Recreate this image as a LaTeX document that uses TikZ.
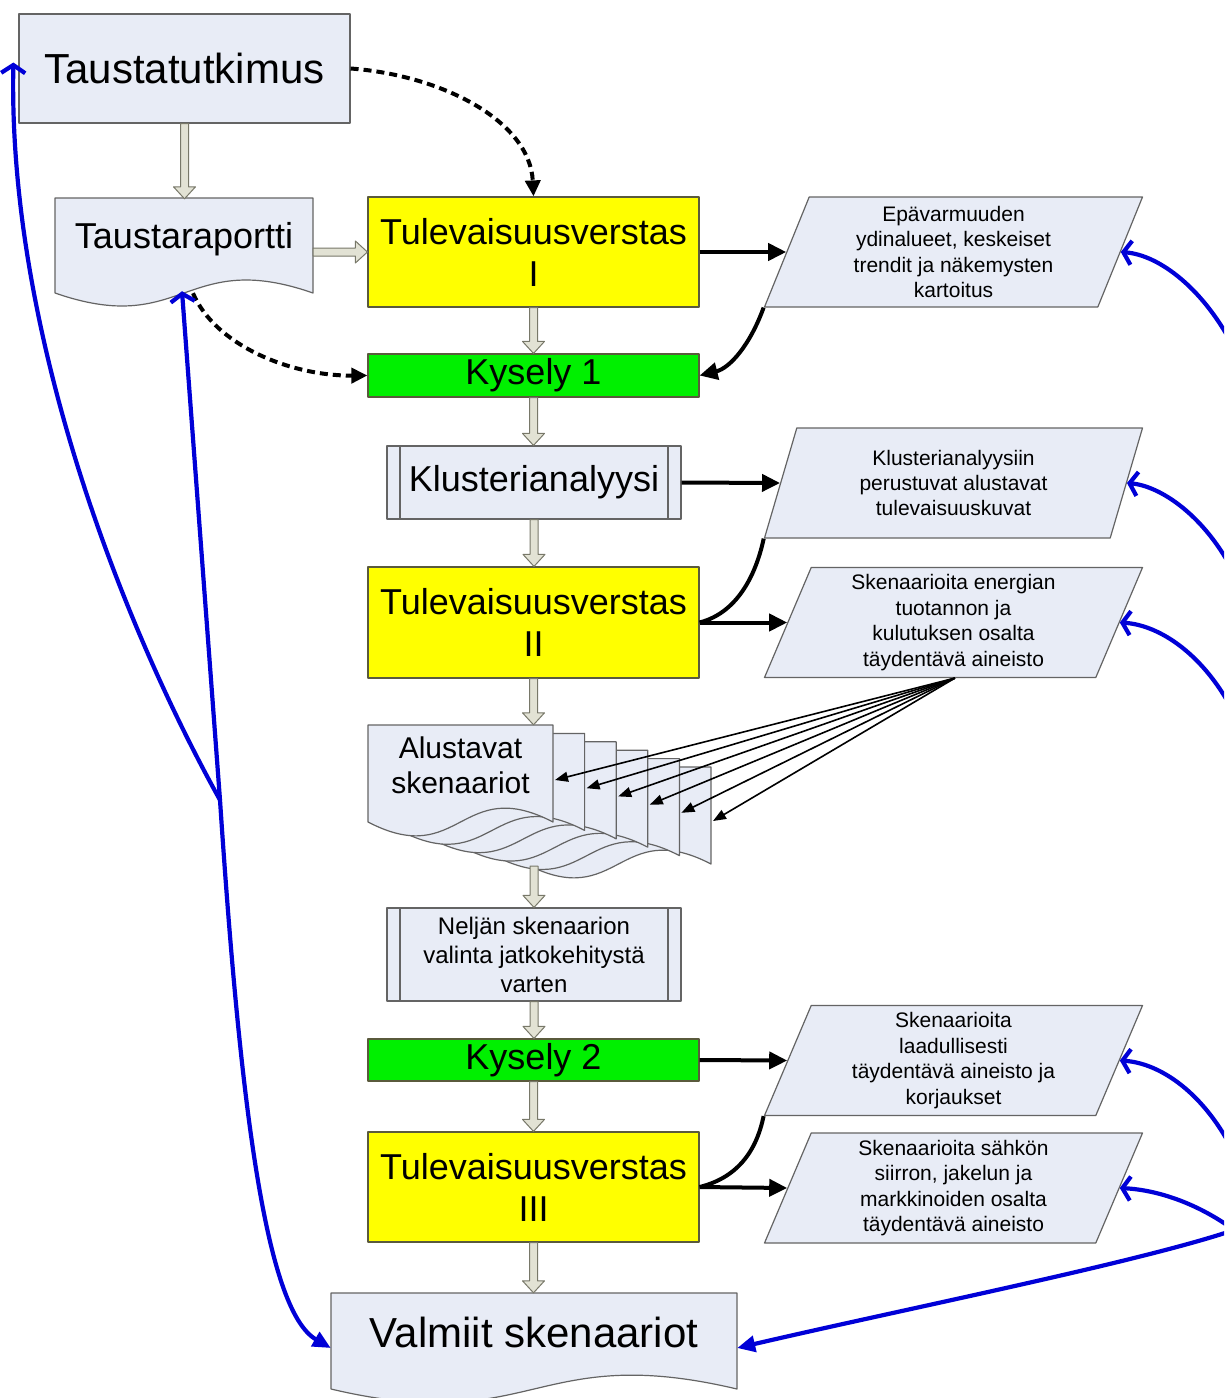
\documentclass[tikz,border=0pt]{standalone}
\usepackage{fontspec}
\setmainfont{Liberation Sans}
\usetikzlibrary{arrows.meta,shapes.geometric,calc}

\definecolor{boxfill}{RGB}{232,236,246}
\definecolor{boxdraw}{RGB}{100,100,100}
\definecolor{ylw}{RGB}{255,255,0}
\definecolor{grn}{RGB}{0,240,0}
\definecolor{barrfill}{RGB}{226,226,212}
\definecolor{barrdraw}{RGB}{120,120,105}
\definecolor{bluel}{RGB}{0,0,215}
\definecolor{boxdark}{RGB}{90,90,60}

\newcommand{\fbig}{\fontsize{42}{50}\selectfont}
\newcommand{\fmid}{\fontsize{36}{42}\selectfont}
\newcommand{\falu}{\fontsize{30}{35}\selectfont}
\newcommand{\fnel}{\fontsize{24}{29}\selectfont}
\newcommand{\ptext}{\fontsize{21}{25.4}\selectfont}

\newcommand{\vbarrow}[2]{\draw[blockarr] let \p1=#1, \p2=#2 in (\x1-4pt,\y1) -- (\x1-4pt,\y2+12pt) -- (\x1-11pt,\y2+12pt) -- (\x1,\y2) -- (\x1+11pt,\y2+12pt) -- (\x1+4pt,\y2+12pt) -- (\x1+4pt,\y1) -- cycle;}
\newcommand{\hbarrow}[2]{\draw[blockarr] let \p1=#1, \p2=#2 in (\x1,\y2-4pt) -- (\x2-12pt,\y2-4pt) -- (\x2-12pt,\y2-11pt) -- (\x2,\y2) -- (\x2-12pt,\y2+11pt) -- (\x2-12pt,\y2+4pt) -- (\x1,\y2+4pt) -- cycle;}
\newcommand{\mydocpage}[5]{\draw[docsty] (#1,#2) -- ({#1+#3},#2) -- ({#1+#3},{#2+#4}) .. controls ({#1+#3/2},{#2+#4-#5}) and ({#1+#3/2},{#2+#4+#5}) .. (#1,{#2+#4}) -- cycle;}

\tikzset{
  mbox/.style={draw=boxdraw, line width=1.2pt, fill=boxfill, inner sep=0pt, align=center, minimum width=331pt},
  ybox/.style={mbox, fill=ylw, draw=boxdark},
  gbox/.style={mbox, fill=grn, draw=boxdark},
  procbox/.style={mbox, minimum width=294pt, path picture={
     \draw[boxdraw, line width=1.2pt] ([xshift=13pt]path picture bounding box.north west) -- ([xshift=13pt]path picture bounding box.south west);
     \draw[boxdraw, line width=1.2pt] ([xshift=-13pt]path picture bounding box.north east) -- ([xshift=-13pt]path picture bounding box.south east);}},
  parash/.style={trapezium, trapezium left angle=64, trapezium right angle=116, trapezium stretches body, minimum width=378pt, minimum height=110pt, draw=boxdraw, line width=1.2pt, fill=boxfill, inner sep=0pt, align=center, font=\ptext},
  doclabel/.style={inner sep=0pt, align=center},
  docsty/.style={draw=boxdraw, line width=1.2pt, fill=boxfill},
  blockarr/.style={draw=barrdraw, fill=barrfill, line width=1pt},
  blk/.style={black, line width=4pt},
  blkarr/.style={blk, arrows={-Triangle[length=18pt,width=17pt]}},
  thinblk/.style={black, line width=1.6pt, arrows={-Triangle[length=13pt,width=10pt]}},
  dsh/.style={black, line width=4pt, dash pattern=on 8pt off 5pt, arrows={-Triangle[length=16pt,width=15pt]}},
  blu/.style={bluel, line width=4.2pt},
  obarb/.style={arrows={Straight Barb[length=8pt,width=24pt]-}},
  obarbfill/.style={arrows={Straight Barb[length=8pt,width=24pt]-Triangle[length=18pt,width=16pt]}},
  fillend/.style={arrows={-Triangle[length=18pt,width=16pt]}}
}

\begin{document}
\begin{tikzpicture}[x=1pt, y=-1pt, line join=round]
\useasboundingbox (0,0) rectangle (1224,1398);
\clip (0,0) rectangle (1224,1398);
\fill[white] (0,0) rectangle (1224,1398);

% document shapes
\mydocpage{55}{198}{258}{95}{45}
\foreach \k in {5,4,3,2,1,0}{
  \pgfmathsetmacro{\xo}{368+31.6*\k}
  \pgfmathsetmacro{\yo}{725+8.4*\k}
  \mydocpage{\xo}{\yo}{185}{97}{48}
}
\mydocpage{331}{1293}{406}{96}{48}

% nodes
\node[mbox, minimum height=109pt, font=\fbig] (tt) at (184.5,68.5) {Taustatutkimus};
\node[doclabel, minimum width=258pt, minimum height=80pt, font=\fmid] (trap) at (184,239) {Taustaraportti};
\node[ybox, minimum height=110pt, font=\fmid] (T1) at (533.5,252) {Tulevaisuusverstas\\I};
\node[gbox, minimum height=43pt, font=\fmid] (K1) at (533.5,375.5) {Kysely 1};
\node[procbox, minimum height=73pt, font=\fmid] (klu) at (534,482.5) {Klusterianalyysi};
\node[ybox, minimum height=111pt, font=\fmid] (T2) at (533.5,622.5) {Tulevaisuusverstas\\II};
\node[doclabel, minimum width=185pt, minimum height=80pt, font=\falu] (alu) at (460.5,765) {Alustavat\\skenaariot};
\node[procbox, minimum height=93pt, font=\fnel] (nel) at (534,954.5) {Neljän skenaarion\\valinta jatkokehitystä\\varten};
\node[gbox, minimum height=42pt, font=\fmid] (K2) at (533.5,1060) {Kysely 2};
\node[ybox, minimum height=110pt, font=\fmid] (T3) at (533.5,1187) {Tulevaisuusverstas\\III};
\node[doclabel, minimum width=406pt, minimum height=78pt, font=\fbig] (val) at (534,1332) {Valmiit skenaariot};

\node[parash] (p1) at (953.5,252) {Epävarmuuden\\ydinalueet, keskeiset\\trendit ja näkemysten\\kartoitus};
\node[parash] (p2) at (953.5,483) {Klusterianalyysiin\\perustuvat alustavat\\tulevaisuuskuvat};
\node[parash] (p3) at (953.5,622.5) {Skenaarioita energian\\tuotannon ja\\kulutuksen osalta\\täydentävä aineisto};
\node[parash] (p4) at (953.5,1060.5) {Skenaarioita\\laadullisesti\\täydentävä aineisto ja\\korjaukset};
\node[parash] (p5) at (953.5,1188) {Skenaarioita sähkön\\siirron, jakelun ja\\markkinoiden osalta\\täydentävä aineisto};

% block arrows
\vbarrow{(tt.south)}{(trap.north)}
\hbarrow{(trap.east)}{(T1.west)}
\vbarrow{(T1.south)}{(K1.north)}
\vbarrow{(K1.south)}{(klu.north)}
\vbarrow{(klu.south)}{(T2.north)}
\vbarrow{(T2.south)}{(alu.north -| T2.south)}
\coordinate (alubot) at (534,866);
\vbarrow{(alubot)}{(nel.north)}
\vbarrow{(nel.south)}{(K2.north)}
\vbarrow{(K2.south)}{(T3.north)}
\vbarrow{(T3.south)}{(val.north)}

% black connectors
\draw[blkarr] (T1.east) -- (p1.left side);
\draw[blkarr] (klu.east) -- (p2.left side);
\draw[blkarr] (T2.east) -- (p3.left side);
\draw[blkarr] (K2.east) -- (p4.left side);
\draw[blkarr] (T3.east) -- (p5.left side);
\draw[blkarr] (p1.bottom left corner) .. controls (750,345) and (730,368) .. (K1.east);
\draw[blk] (T2.east) .. controls (740,612) and (757,570) .. (p2.bottom left corner);
\draw[blk] (T3.east) .. controls (740,1177) and (757,1148) .. (p4.bottom left corner);

% thin arrows to pages
\coordinate (p3b) at ($(p3.bottom side)+(25,0)$);
\foreach \k in {0,...,5}{\coordinate (pg\k) at ({555+31.6*\k},{780+8.2*\k});}
\foreach \k in {0,...,5}{\draw[thinblk] (p3b) -- (pg\k);}

% dashed
\draw[dsh] (tt.east) .. controls (440,75) and (530,120) .. (T1.north);
\coordinate (trd) at ($(trap.south)+(9,14)$);
\draw[dsh] (trd) .. controls (215,345) and (290,376) .. (K1.west);

% blue left
\coordinate (jL) at (220,800);
\coordinate (ttin) at ($(tt.west)+(-5,-6)$);
\coordinate (trbot) at ($(trap.south)+(-2,12)$);
\coordinate (valw) at ($(val.west)+(0,16)$);
\draw[blu, obarbfill] (ttin) .. controls (8,330) and (120,620) .. (jL) .. controls (240,1100) and (265,1310) .. (valw);
\draw[blu, obarb] (trbot) -- (jL);

% blue right
\coordinate (jR) at (1234,1230);
\coordinate (vale) at ($(val.east)+(0,16)$);
\draw[blu, obarb] (p1.right side) .. controls (1160,255) and (1205,290) .. (1235,350) -- (jR);
\draw[blu, obarb] (p2.right side) .. controls (1160,486) and (1205,515) .. (1235,575) -- (jR);
\draw[blu, obarb] (p3.right side) .. controls (1160,625) and (1205,655) .. (1235,715) -- (jR);
\draw[blu, obarb] (p4.right side) .. controls (1160,1063) and (1205,1093) .. (1235,1155) -- (jR);
\draw[blu, obarb] (p5.right side) .. controls (1160,1190) and (1200,1205) .. (jR);
\draw[blu, fillend] (jR) .. controls (1140,1262) and (900,1310) .. (vale);
\end{tikzpicture}
\end{document}
